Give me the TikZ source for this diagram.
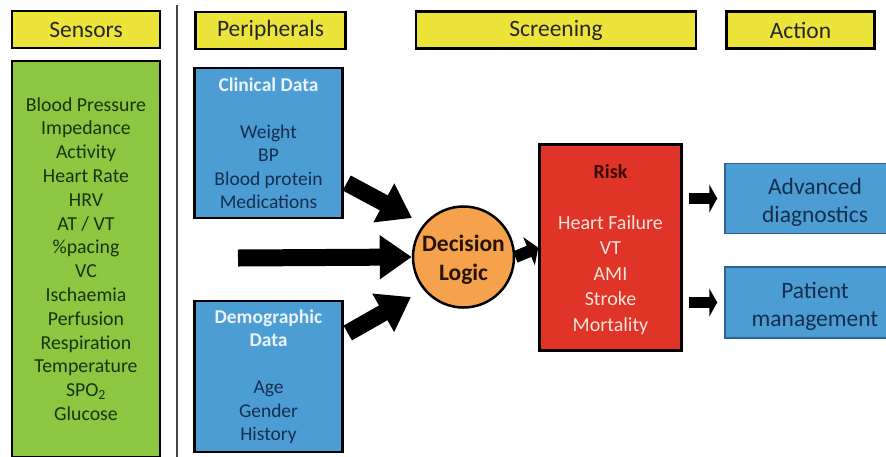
\documentclass[tikz,border=0pt]{standalone}
\usepackage{fontspec}
\setmainfont{Carlito}
\usetikzlibrary{arrows.meta}

\definecolor{hdryellow}{HTML}{EDE43A}
\definecolor{sensgreen}{HTML}{8DC640}
\definecolor{boxblue}{HTML}{4C9DD3}
\definecolor{riskred}{HTML}{DF3427}
\definecolor{logicorange}{HTML}{F6A24D}
\definecolor{greentext}{HTML}{1A330F}
\definecolor{navytext}{HTML}{142F4E}
\definecolor{bluetitle}{HTML}{EAF3F9}
\definecolor{risktext}{HTML}{FBE3D8}
\definecolor{risktitle}{HTML}{3A0805}
\definecolor{actborder}{HTML}{2F6391}
\definecolor{divider}{HTML}{444444}

\newcommand\paneltitle[1]{\textcolor{bluetitle}{\bfseries #1}}

\begin{document}
\begin{tikzpicture}[x=1pt,y=-1pt,
  header/.style={draw=black, line width=2.5pt, fill=hdryellow, inner sep=0pt,
    minimum height=37pt, text=black!85, font=\fontsize{23.5}{28}\selectfont},
  panel/.style={draw=black, line width=2.5pt, inner sep=0pt, align=center},
  sensorbox/.style={panel, fill=sensgreen, text=greentext,
    minimum width=148pt, minimum height=396pt, font=\fontsize{19.8}{23.8}\selectfont},
  databox/.style={panel, fill=boxblue, text=navytext,
    minimum width=148pt, minimum height=150pt, font=\fontsize{19.5}{23.5}\selectfont},
  riskbox/.style={panel, fill=riskred, text=risktext,
    minimum width=142pt, minimum height=206pt, font=\fontsize{20}{25.5}\selectfont},
  logic/.style={circle, draw=black, line width=2.5pt, fill=logicorange, inner sep=0pt,
    minimum size=101pt, align=center, text=black!85!orange,
    font=\fontsize{23.5}{28.5}\selectfont\bfseries},
  actionbox/.style={draw=actborder, line width=1.5pt, fill=boxblue, inner sep=0pt,
    align=center, text=navytext, minimum width=180pt, minimum height=70pt,
    font=\fontsize{23.5}{28}\selectfont},
  bigarrow/.style={draw=black, line width=17pt, -{Triangle[length=32pt, width=42pt]}},
  midarrow/.style={draw=black, line width=12pt, -{Triangle[length=10pt, width=30pt]}},
  smallarrow/.style={draw=black, line width=11pt, -{Triangle[length=8pt, width=28pt]}}
]
\clip (0,0) rectangle (886,456);
\fill[white] (0,0) rectangle (886,456);

% column divider
\draw[divider, line width=2pt] (177,5) -- (177,460);

% column headers
\node[header, minimum width=148pt] (hsens)  at (86,29.5)    {Sensors};
\node[header, minimum width=150pt] (hperi)  at (270.5,30.5) {Peripherals};
\node[header, minimum width=280pt] (hscr)   at (556,30)     {Screening};
\node[header, minimum width=148pt] (hact)   at (800.5,30)   {Action};

% sensor list
\node[sensorbox] (sens) at (86,259) {Blood Pressure\\Impedance\\Activity\\Heart Rate\\HRV\\AT / VT\\\%pacing\\VC\\Ischaemia\\Perfusion\\Respiration\\Temperature\\SPO\textsubscript{2}\\Glucose};

% peripheral data
\node[databox] (clin) at (268.5,143) {\paneltitle{Clinical Data}\\[23.5pt]Weight\\BP\\Blood protein\\Medications};
\node[databox, minimum height=151pt] (demo) at (268.5,376.5) {\paneltitle{Demographic}\\\paneltitle{Data}\\[23.5pt]Age\\Gender\\History};

% decision logic (the strut lowers the two lines a little inside the circle)
\node[logic] (dl) at (463.5,257) {\rule{0pt}{22pt}Decision\\Logic};

% risk screening
\node[riskbox] (risk) at (610.5,247.5) {\rule{0pt}{18pt}\textcolor{risktitle}{\bfseries Risk}\\[25.5pt]Heart Failure\\VT\\AMI\\Stroke\\Mortality};

% actions
\node[actionbox] (adv) at (815,198.5) {\rule{0pt}{24pt}Advanced\\diagnostics};
\node[actionbox, minimum height=71pt] (pat) at (815,302.5) {\rule{0pt}{25pt}Patient\\management};

% inputs into the decision logic
\coordinate (sensin) at (238,258);
\draw[bigarrow] ([shift={(3pt,-40pt)}]clin.east) -- ([shift={(-51.5pt,39pt)}]dl.center);
\draw[bigarrow] (sensin) -- (dl.west);
\draw[bigarrow] ([shift={(4pt,43.5pt)}]demo.east) -- ([shift={(-52.5pt,-40pt)}]dl.center);

% decision logic to risk, risk to actions
\draw[midarrow] (dl.east) -- (risk.west);
\draw[smallarrow] ([xshift=6pt]risk.east |- adv.west) -- ([xshift=-7pt]adv.west);
\draw[smallarrow] ([xshift=6pt]risk.east |- pat.west) -- ([xshift=-7pt]pat.west);
\end{tikzpicture}
\end{document}
